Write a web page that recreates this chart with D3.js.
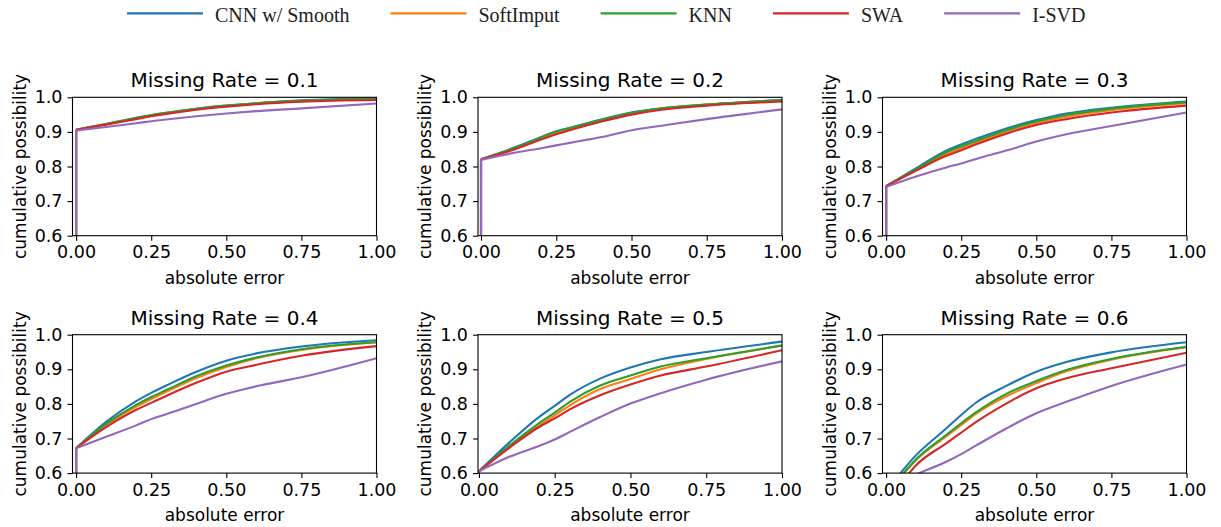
<html>
<head>
<script src="https://d3js.org/d3.v7.min.js"></script>
<style>
body{margin:0;background:#fff;}
svg{display:block;}
</style>
</head>
<body></body>
<script>
const W = 1221, H = 527;

const methods = ['CNN w/ Smooth','SoftImput','KNN','SWA','I-SVD'];
const colors = ['#1f77b4','#ff7f0e','#2ca02c','#d62728','#9467bd'];
const rates = ['0.1','0.2','0.3','0.4','0.5','0.6'];
const xTicks = [0, 0.25, 0.5, 0.75, 1.0];
const yTicks = [0.6, 0.7, 0.8, 0.9, 1.0];
// absolute error values the curves were read at
const errGrid = [0, 0.1, 0.2, 0.25, 0.3, 0.4, 0.5, 0.6, 0.75, 1.0];

// cumulative possibility, one row per method (same order as methods)
const cdf01 = [
  [0.906,0.923,0.940,0.948,0.955,0.967,0.976,0.983,0.991,0.997],
  [0.906,0.922,0.939,0.947,0.954,0.966,0.975,0.982,0.989,0.995],
  [0.906,0.923,0.941,0.949,0.955,0.967,0.976,0.983,0.990,0.996],
  [0.906,0.921,0.937,0.945,0.952,0.964,0.973,0.980,0.987,0.992],
  [0.904,0.914,0.925,0.931,0.936,0.945,0.953,0.960,0.968,0.982]];
const cdf02 = [
  [0.821,0.851,0.885,0.902,0.913,0.936,0.956,0.968,0.979,0.992],
  [0.821,0.848,0.880,0.896,0.908,0.931,0.952,0.966,0.978,0.990],
  [0.821,0.850,0.884,0.901,0.912,0.935,0.955,0.968,0.979,0.992],
  [0.821,0.846,0.878,0.893,0.906,0.930,0.950,0.964,0.976,0.988],
  [0.819,0.838,0.853,0.861,0.869,0.885,0.905,0.918,0.937,0.965]];
const cdf03 = [
  [0.743,0.795,0.846,0.864,0.880,0.910,0.934,0.953,0.970,0.988],
  [0.743,0.790,0.836,0.853,0.869,0.900,0.925,0.944,0.963,0.983],
  [0.743,0.792,0.841,0.858,0.874,0.905,0.930,0.949,0.967,0.986],
  [0.743,0.788,0.831,0.847,0.864,0.895,0.920,0.937,0.956,0.976],
  [0.741,0.771,0.797,0.809,0.822,0.846,0.872,0.893,0.917,0.956]];
const cdf04 = [
  [0.672,0.748,0.808,0.832,0.853,0.893,0.925,0.946,0.966,0.984],
  [0.672,0.739,0.792,0.814,0.835,0.875,0.907,0.932,0.956,0.978],
  [0.672,0.742,0.797,0.820,0.840,0.880,0.911,0.934,0.958,0.978],
  [0.672,0.733,0.783,0.803,0.823,0.861,0.893,0.913,0.939,0.967],
  [0.672,0.705,0.738,0.756,0.770,0.800,0.829,0.851,0.877,0.932]];
const cdf05 = [
  [0.605,0.688,0.763,0.794,0.826,0.873,0.905,0.929,0.950,0.980],
  [0.605,0.676,0.738,0.767,0.796,0.843,0.872,0.900,0.930,0.968],
  [0.605,0.679,0.745,0.775,0.806,0.853,0.882,0.908,0.932,0.969],
  [0.605,0.673,0.734,0.758,0.784,0.825,0.856,0.882,0.908,0.955],
  [0.605,0.647,0.679,0.697,0.719,0.762,0.801,0.831,0.870,0.923]];
const cdf06 = [
  [0.548,0.652,0.729,0.768,0.804,0.852,0.893,0.921,0.949,0.978],
  [0.535,0.638,0.706,0.739,0.772,0.822,0.860,0.894,0.928,0.964],
  [0.538,0.640,0.710,0.744,0.776,0.829,0.866,0.898,0.930,0.965],
  [0.510,0.623,0.686,0.717,0.748,0.801,0.845,0.874,0.903,0.948],
  [0.555,0.596,0.633,0.655,0.680,0.729,0.773,0.806,0.852,0.914]];
const panels = [cdf01, cdf02, cdf03, cdf04, cdf05, cdf06];
const xMin = [-0.012,-0.01,-0.012,-0.012,-0.003,-0.012];

// layout
const colLeft = [72.5, 478, 882.5];
const rowTop = [97.3, 334.7];
const pw = 304, ph = 138.4;

const svg = d3.select('body').append('svg')
    .attr('width', W).attr('height', H)
    .style('font-family', '"DejaVu Sans", sans-serif');

// legend
const legend = svg.append('g').attr('transform', 'translate(127,0)');
let lx = 0;
methods.forEach((m, i) => {
  const g = legend.append('g').attr('transform', `translate(${lx},0)`);
  g.append('line')
      .attr('x1', 0).attr('x2', 76).attr('y1', 13.3).attr('y2', 13.3)
      .attr('stroke', colors[i]).attr('stroke-width', 2.2);
  const t = g.append('text')
      .attr('x', 88).attr('y', 21.5)
      .style('font-family', '"Liberation Serif", serif')
      .style('font-size', '20px')
      .attr('fill', '#222')
      .text(m);
  lx += 88 + t.node().getComputedTextLength() + 41;
});

panels.forEach((data, p) => {
  const left = colLeft[p % 3], top = rowTop[Math.floor(p / 3)];
  const g = svg.append('g').attr('transform', `translate(${left},${top})`);

  const x = d3.scaleLinear().domain([xMin[p], 1]).range([0, pw]);
  const y = d3.scaleLinear().domain([0.6, 1]).range([ph, 0]);

  g.append('clipPath').attr('id', 'clip' + p)
    .append('rect').attr('width', pw).attr('height', ph);

  const plot = g.append('g').attr('clip-path', `url(#clip${p})`);
  const curve = d3.line()
      .x(d => x(d[0])).y(d => y(d[1]))
      .curve(d3.curveMonotoneX);
  const jump = d3.line().x(d => x(d[0])).y(d => y(d[1]));

  data.forEach((vals, i) => {
    // step of the cdf at zero error
    plot.append('path')
        .attr('d', jump([[0, 0], [0, vals[0]]]))
        .attr('fill', 'none').attr('stroke', colors[i]).attr('stroke-width', 2.1);
    plot.append('path')
        .attr('d', curve(vals.map((v, k) => [errGrid[k], v])))
        .attr('fill', 'none')
        .attr('stroke', colors[i])
        .attr('stroke-width', 2.1)
        .attr('stroke-linejoin', 'round');
  });

  const xa = g.append('g').attr('transform', `translate(0,${ph})`)
      .call(d3.axisBottom(x).tickValues(xTicks).tickFormat(d3.format('.2f'))
        .tickSize(5).tickPadding(5));
  const ya = g.append('g')
      .call(d3.axisLeft(y).tickValues(yTicks).tickFormat(d3.format('.1f'))
        .tickSize(5).tickPadding(5));
  [xa, ya].forEach(a => {
    a.select('.domain').remove();
    a.selectAll('text').style('font-size', '17.5px').style('font-family', '"DejaVu Sans", sans-serif').attr('fill', '#000');
    a.selectAll('line').attr('stroke', '#000').attr('stroke-width', 1.1);
  });

  g.append('rect')
      .attr('width', pw).attr('height', ph)
      .attr('fill', 'none').attr('stroke', '#000').attr('stroke-width', 1.1);

  g.append('text')
      .attr('x', pw / 2).attr('y', -10)
      .attr('text-anchor', 'middle')
      .style('font-size', '20px')
      .text('Missing Rate = ' + rates[p]);

  g.append('text')
      .attr('x', pw / 2).attr('y', ph + 48)
      .attr('text-anchor', 'middle')
      .style('font-size', '17px')
      .text('absolute error');

  g.append('text')
      .attr('transform', `translate(-47,${ph / 2}) rotate(-90)`)
      .attr('text-anchor', 'middle')
      .style('font-size', '17px')
      .text('cumulative possibility');
});
</script>
</html>
